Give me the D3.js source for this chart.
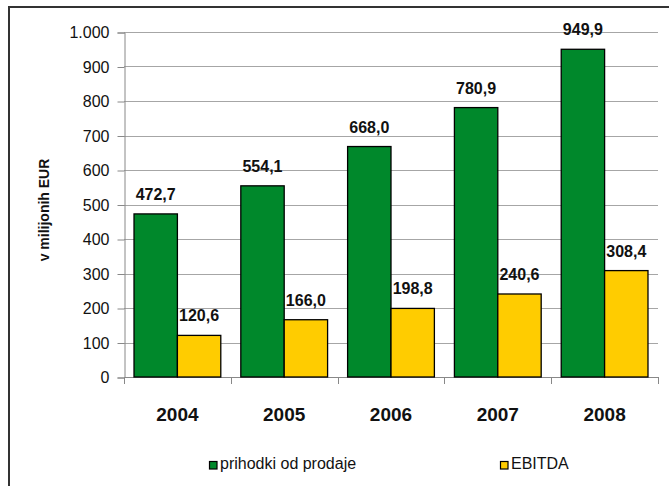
<!DOCTYPE html>
<html>
<head>
<meta charset="utf-8">
<script src="https://cdn.jsdelivr.net/npm/d3@7"></script>
<style>
  body { margin: 0; background: #fff; }
  svg { display: block; font-family: "Liberation Sans", Arial, sans-serif; }
</style>
</head>
<body>
<div id="chart-area"></div>
<script>
var years = ["2004", "2005", "2006", "2007", "2008"];
var prihodki = [472.7, 554.1, 668.0, 780.9, 949.9];
var ebitda = [120.6, 166.0, 198.8, 240.6, 308.4];
var seriesNames = ["prihodki od prodaje", "EBITDA"];
var colors = ["#00882b", "#ffcc00"];
var yTicks = [0, 100, 200, 300, 400, 500, 600, 700, 800, 900, 1000];

var width = 669,
    height = 486;

var svg = d3.select("#chart-area").append("svg")
    .attr("width", width)
    .attr("height", height);

// outer frame (only top and left are visible in the picture)
svg.append("rect")
    .attr("x", 9).attr("y", 7)
    .attr("width", 700).attr("height", 520)
    .attr("fill", "none")
    .attr("stroke", "#333")
    .attr("stroke-width", 2);

var loc = d3.formatLocale({decimal: ",", thousands: ".", grouping: [3], currency: ["", ""]});
var fmtTick = loc.format(",d");
var fmtVal = loc.format(".1f");

var x0 = d3.scaleBand().domain(years).range([124, 658])
    .paddingInner(0.1875).paddingOuter(0.09375);
var x1 = d3.scaleBand().domain([0, 1]).range([0, x0.bandwidth()]);
var y = d3.scaleLinear().domain([0, 1000]).range([377, 32]);

// gridlines
svg.append("g").selectAll("line")
    .data(yTicks.filter(d => d > 0))
    .enter().append("line")
    .attr("x1", 124).attr("x2", 658)
    .attr("y1", d => Math.round(y(d)) + 0.5)
    .attr("y2", d => Math.round(y(d)) + 0.5)
    .attr("stroke", "#a6a6a6");

// y axis
var yAxis = svg.append("g")
    .attr("transform", "translate(124.5,0.5)")
    .call(d3.axisLeft(y).tickValues(yTicks).tickSize(7).tickPadding(8).tickFormat(fmtTick));
yAxis.select(".domain").attr("stroke", "#888");
yAxis.selectAll(".tick line").attr("stroke", "#888");
yAxis.selectAll("text")
    .attr("font-size", 16)
    .attr("font-family", "Liberation Sans, Arial, sans-serif")
    .attr("fill", "#111");

// x axis with ticks at category boundaries
var bounds = d3.range(years.length + 1).map(i => 124 + i * x0.step());
svg.append("line")
    .attr("x1", 124).attr("x2", 658)
    .attr("y1", y(0) + 0.5).attr("y2", y(0) + 0.5)
    .attr("stroke", "#888");
svg.append("g").selectAll("line")
    .data(bounds)
    .enter().append("line")
    .attr("x1", d => Math.round(d) + 0.5).attr("x2", d => Math.round(d) + 0.5)
    .attr("y1", y(0)).attr("y2", y(0) + 7)
    .attr("stroke", "#888");

svg.append("g").selectAll("text")
    .data(years)
    .enter().append("text")
    .attr("x", d => x0(d) + x0.bandwidth() / 2)
    .attr("y", 421)
    .attr("text-anchor", "middle")
    .attr("font-size", 19)
    .attr("font-weight", "bold")
    .attr("fill", "#111")
    .text(d => d);

// bars
var rows = years.map((yr, i) => ({year: yr, vals: [prihodki[i], ebitda[i]]}));

var groups = svg.selectAll(".grp")
    .data(rows)
    .enter().append("g")
    .attr("class", "grp")
    .attr("transform", d => "translate(" + x0(d.year) + ",0)");

groups.selectAll("rect")
    .data(d => d.vals.map((v, k) => ({k: k, v: v})))
    .enter().append("rect")
    .attr("x", d => x1(d.k))
    .attr("y", d => y(d.v))
    .attr("width", x1.bandwidth())
    .attr("height", d => y(0) - y(d.v))
    .attr("fill", d => colors[d.k])
    .attr("stroke", "#000")
    .attr("stroke-width", 1.3);

groups.selectAll(".lbl")
    .data(d => d.vals.map((v, k) => ({k: k, v: v})))
    .enter().append("text")
    .attr("class", "lbl")
    .attr("x", d => x1(d.k) + x1.bandwidth() / 2)
    .attr("y", d => y(d.v) - 14)
    .attr("text-anchor", "middle")
    .attr("font-size", 16)
    .attr("font-weight", "bold")
    .attr("fill", "#111")
    .text(d => fmtVal(d.v));

// y axis title
svg.append("text")
    .attr("transform", "translate(49,210) rotate(-90)")
    .attr("text-anchor", "middle")
    .attr("font-size", 14)
    .attr("font-weight", "bold")
    .attr("fill", "#111")
    .text("v milijonih EUR");

// legend
var legX = [209, 500];
var leg = svg.selectAll(".leg")
    .data(seriesNames)
    .enter().append("g")
    .attr("class", "leg")
    .attr("transform", (d, i) => "translate(" + legX[i] + ",461)");
leg.append("rect")
    .attr("x", 0.5).attr("y", 0.5)
    .attr("width", 7.5).attr("height", 7.5)
    .attr("fill", (d, i) => colors[i])
    .attr("stroke", "#000")
    .attr("stroke-width", 1.2);
leg.append("text")
    .attr("x", 11)
    .attr("y", 8)
    .attr("font-size", 16)
    .attr("fill", "#111")
    .text(d => d);
</script>
</body>
</html>
